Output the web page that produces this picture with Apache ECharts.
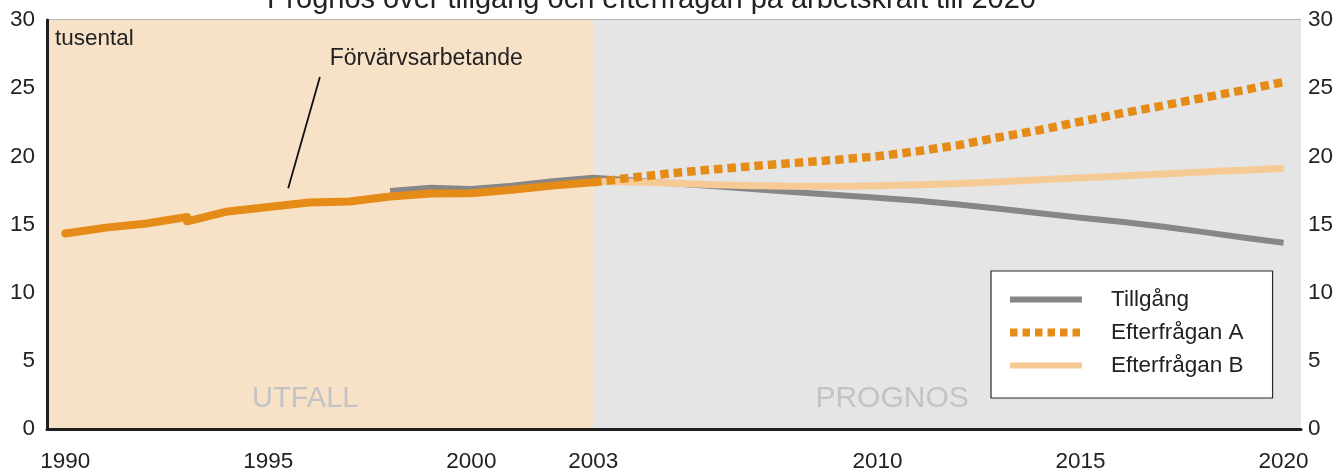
<!DOCTYPE html>
<html>
<head>
<meta charset="utf-8">
<script src="https://cdn.jsdelivr.net/npm/echarts@6/dist/echarts.min.js"></script>
<style>
  html, body { margin: 0; padding: 0; background: #ffffff; }
  #chart { width: 1337px; height: 473px; }
</style>
</head>
<body>
<div id="chart"></div>
<script>
// Employed persons, outcome years (1993 has a break in the series)
const employedYears = [1990, 1991, 1992, 1993, 1993, 1994, 1995, 1996, 1997, 1998, 1999, 2000, 2001, 2002, 2003];
const employed      = [14.34, 14.77, 15.07, 15.55, 15.23, 15.96, 16.28, 16.62, 16.69, 17.05, 17.27, 17.3, 17.55, 17.85, 18.1];

// Supply of labour (Tillgång), outcome and forecast
const supplyYears = [1998, 1999, 2000, 2001, 2002, 2003, 2004, 2005, 2006, 2007, 2008, 2009, 2010, 2011, 2012, 2013, 2014, 2015, 2016, 2017, 2018, 2019, 2020];
const supply      = [17.45, 17.7, 17.6, 17.85, 18.17, 18.43, 18.22, 18.0, 17.8, 17.58, 17.37, 17.17, 16.96, 16.74, 16.47, 16.15, 15.82, 15.5, 15.2, 14.85, 14.46, 14.05, 13.66];

// Demand scenarios A and B, forecast
const forecastYears = [2003, 2004, 2005, 2006, 2007, 2008, 2009, 2010, 2011, 2012, 2013, 2014, 2015, 2016, 2017, 2018, 2019, 2020];
const demandA       = [18.1, 18.45, 18.78, 19.05, 19.3, 19.52, 19.75, 20.0, 20.38, 20.82, 21.4, 21.93, 22.55, 23.15, 23.7, 24.28, 24.85, 25.45];
const demandB       = [18.15, 18.12, 18.02, 17.92, 17.85, 17.8, 17.8, 17.84, 17.92, 18.0, 18.14, 18.28, 18.42, 18.55, 18.7, 18.85, 18.98, 19.12];

const yTicks = [0, 5, 10, 15, 20, 25, 30];
const xLabelYears = [1990, 1995, 2000, 2003, 2010, 2015, 2020];

const XMIN = 1989.55, XMAX = 2020.43, SPLIT_YEAR = 2003;

const zip = (xs, ys) => xs.map((x, i) => [x, ys[i]]);

const FONT = 'Liberation Sans, Arial, sans-serif';
const TEXT = '#222222';
const ORANGE = '#e58b17';
const GREY = '#878787';
const PEACH = '#f6ca95';

// legend shows plain line samples, no point marker
const noMarker = { opacity: 0, color: 'transparent', borderWidth: 0 };

const chart = echarts.init(document.getElementById('chart'), null, { renderer: 'canvas' });

chart.setOption({
  animation: false,
  backgroundColor: '#ffffff',
  textStyle: { fontFamily: FONT },
  title: {
    text: 'Prognos över tillgång och efterfrågan på arbetskraft till 2020',
    left: 262,
    top: -20,
    textStyle: { fontFamily: FONT, fontSize: 29, fontWeight: 'normal', color: TEXT }
  },
  grid: { left: 47, right: 36, top: 20, bottom: 41 },
  legend: {
    orient: 'vertical',
    left: 991,
    top: 271,
    padding: [17, 29, 21, 15],
    backgroundColor: '#ffffff',
    borderColor: '#2b2b2b',
    borderWidth: 1.2,
    itemWidth: 72,
    itemHeight: 14,
    itemGap: 10,
    selectedMode: false,
    itemStyle: noMarker,
    textStyle: { fontFamily: FONT, fontSize: 22.5, color: TEXT, padding: [0, 0, 0, 24] },
    data: [
      { name: 'Tillgång', itemStyle: noMarker, lineStyle: { color: GREY, width: 6 } },
      { name: 'Efterfrågan A', itemStyle: noMarker, lineStyle: { color: ORANGE, width: 8, type: [7.5, 5], cap: 'butt' } },
      { name: 'Efterfrågan B', itemStyle: noMarker, lineStyle: { color: PEACH, width: 6 } }
    ]
  },
  xAxis: {
    type: 'value',
    min: XMIN,
    max: XMAX,
    z: 1,
    axisLine: { show: true, onZero: false, lineStyle: { color: '#1e1e1e', width: 3 } },
    axisTick: { show: false },
    splitLine: { show: false },
    axisLabel: {
      customValues: xLabelYears,
      margin: 21,
      fontFamily: FONT,
      fontSize: 22.5,
      color: TEXT,
      formatter: v => String(v)
    }
  },
  yAxis: [
    {
      type: 'value', min: 0, max: 30, interval: 5, position: 'left', z: 1,
      axisLine: { show: true, lineStyle: { color: '#1e1e1e', width: 3 } },
      axisTick: { show: false },
      splitLine: { show: true, lineStyle: { color: '#b8b8b8', width: 2 } },
      axisLabel: { customValues: yTicks, margin: 12, fontFamily: FONT, fontSize: 22.5, color: TEXT }
    },
    {
      type: 'value', min: 0, max: 30, interval: 5, position: 'right', z: 1,
      axisLine: { show: false },
      axisTick: { show: false },
      splitLine: { show: false },
      axisLabel: { customValues: yTicks, margin: 7, fontFamily: FONT, fontSize: 22.5, color: TEXT }
    }
  ],
  graphic: [
    {
      type: 'text', left: 55, top: 27, z: 10,
      style: { text: 'tusental', fill: TEXT, font: '22.5px ' + FONT }
    }
  ],
  series: [
    {
      // shaded periods: outcome vs forecast
      name: 'periods',
      type: 'line',
      z: 0,
      data: [],
      silent: true,
      markArea: {
        silent: true,
        label: { show: false },
        data: [
          [{ xAxis: XMIN, itemStyle: { color: '#f8e2c7' } }, { xAxis: SPLIT_YEAR }],
          [{ xAxis: SPLIT_YEAR, itemStyle: { color: '#e5e5e5' } }, { xAxis: XMAX }]
        ]
      },
      markPoint: {
        silent: true,
        symbol: 'circle',
        symbolSize: 0,
        label: { show: true, position: 'inside', color: '#c3c3c3', fontFamily: FONT, fontSize: 30 },
        data: [
          { coord: [1995.91, 2.22], label: { formatter: 'UTFALL', fontSize: 29 } },
          { coord: [2010.36, 2.22], label: { formatter: 'PROGNOS' } }
        ]
      }
    },
    {
      name: 'Tillgång',
      type: 'line',
      z: 2,
      symbol: 'none',
      showSymbol: false,
      data: zip(supplyYears, supply),
      lineStyle: { color: GREY, width: 6, cap: 'butt', join: 'miter' },
      itemStyle: { color: GREY }
    },
    {
      name: 'Efterfrågan B',
      type: 'line',
      z: 3,
      symbol: 'none',
      showSymbol: false,
      smooth: 0.3,
      data: zip(forecastYears, demandB),
      lineStyle: { color: PEACH, width: 7, cap: 'butt' },
      itemStyle: { color: PEACH }
    },
    {
      name: 'Förvärvsarbetande',
      type: 'line',
      z: 4,
      symbol: 'none',
      showSymbol: false,
      data: zip(employedYears, employed),
      lineStyle: { color: ORANGE, width: 8, cap: 'round', join: 'round' },
      itemStyle: { color: ORANGE },
      markLine: {
        silent: true,
        symbol: ['none', 'none'],
        label: { show: false },
        lineStyle: { color: '#111111', width: 1.8, type: 'solid' },
        data: [[{ coord: [1996.27, 25.82] }, { coord: [1995.49, 17.66] }]]
      },
      markPoint: {
        silent: true,
        symbol: 'circle',
        symbolSize: 0,
        label: { show: true, position: 'inside', color: TEXT, fontFamily: FONT, fontSize: 23, formatter: 'Förvärvsarbetande' },
        data: [{ coord: [1998.89, 27.18] }]
      }
    },
    {
      name: 'Efterfrågan A',
      type: 'line',
      z: 5,
      symbol: 'none',
      showSymbol: false,
      data: zip(forecastYears, demandA),
      lineStyle: { color: ORANGE, width: 8.5, type: [8.5, 5], cap: 'butt' },
      itemStyle: { color: ORANGE }
    }
  ]
});
</script>
</body>
</html>
